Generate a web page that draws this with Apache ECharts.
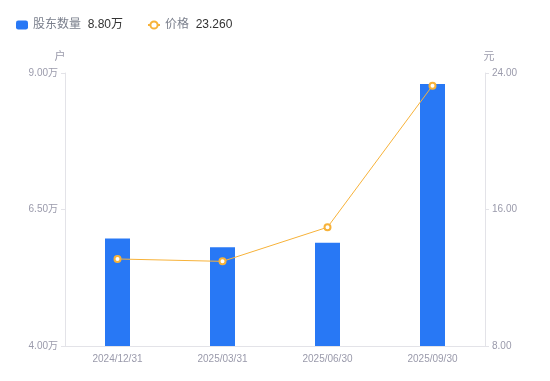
<!DOCTYPE html>
<html><head><meta charset="utf-8">
<script src="https://cdn.jsdelivr.net/npm/echarts@6/dist/echarts.min.js"></script>
<style>html,body{margin:0;padding:0;background:#fff}#c{width:550px;height:381px}</style>
</head><body><div id="c"></div>
<script>
const categories = ['2024/12/31', '2025/03/31', '2025/06/30', '2025/09/30'];
const holders = [59700, 58100, 58900, 88000];
const prices = [13.10, 12.96, 14.96, 23.26];
const leftTicks = { min: 40000, max: 90000, interval: 25000 };
const rightTicks = { min: 8, max: 24, interval: 8 };

const chart = echarts.init(document.getElementById('c'));
const latest = {
  '股东数量': (holders[holders.length - 1] / 10000).toFixed(2) + '万',
  '价格': prices[prices.length - 1].toFixed(3)
};
const FONT = '"Liberation Sans", Arial, "Noto Sans CJK SC", sans-serif';
chart.setOption({
  animation: false,
  textStyle: { fontFamily: FONT },
  legend: {
    left: 11, top: 14, itemGap: 24, itemWidth: 12, itemHeight: 9,
    formatter: name => '{n|' + name + '}  {v|' + latest[name] + '}',
    textStyle: { fontFamily: FONT, rich: { n: { color: '#7a7f8c', fontSize: 12, fontFamily: FONT }, v: { color: '#333', fontSize: 12, fontFamily: FONT } } },
    data: [{ name: '股东数量', icon: 'roundRect', itemStyle: { borderRadius: 1 } }, { name: '价格' }]
  },
  grid: { left: 65, right: 65, top: 73, bottom: 35 },
  xAxis: {
    type: 'category', data: categories,
    axisLine: { lineStyle: { color: '#e3e3e8' } },
    axisTick: { show: false },
    axisLabel: { color: '#9a9aab', fontSize: 10, margin: 8 }
  },
  yAxis: [{
    type: 'value', min: leftTicks.min, max: leftTicks.max, interval: leftTicks.interval,
    name: '户', nameTextStyle: { color: '#9a9aab', fontSize: 11, padding: [0, 10, 0, 0] }, nameGap: 11,
    axisLine: { show: true, lineStyle: { color: '#e3e3e8' } },
    axisTick: { show: true, length: 4, lineStyle: { color: '#e3e3e8' } },
    splitLine: { show: false },
    axisLabel: { color: '#9a9aab', fontSize: 10, margin: 7, formatter: v => (v / 10000).toFixed(2) + '万' }
  }, {
    type: 'value', min: rightTicks.min, max: rightTicks.max, interval: rightTicks.interval,
    name: '元', nameTextStyle: { color: '#9a9aab', fontSize: 11, padding: [0, 0, 0, 8] }, nameGap: 11,
    axisLine: { show: true, lineStyle: { color: '#e3e3e8' } },
    axisTick: { show: true, length: 4, lineStyle: { color: '#e3e3e8' } },
    splitLine: { show: false },
    axisLabel: { color: '#9a9aab', fontSize: 10, margin: 7, formatter: v => v.toFixed(2) }
  }],
  series: [{
    name: '股东数量', type: 'bar', data: holders, barWidth: 25,
    itemStyle: { color: '#2878f5' }
  }, {
    name: '价格', type: 'line', yAxisIndex: 1, data: prices,
    symbol: 'emptyCircle', symbolSize: 6,
    lineStyle: { color: '#f7b239', width: 1 },
    itemStyle: { color: '#f7b239', borderWidth: 2 }
  }]
});
</script></body></html>
